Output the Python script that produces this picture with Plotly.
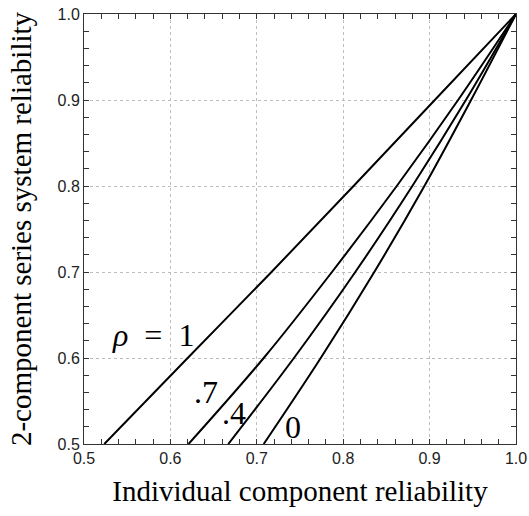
import plotly.graph_objects as go

# System reliability levels (y) and the component reliability (x) at which each curve reaches them
y_levels = [0.5, 0.6, 0.7, 0.8, 0.9, 1.0]
x_rho_1 = [0.5235, 0.620, 0.717, 0.812, 0.906, 1.0]
x_rho_07 = [0.621, 0.708, 0.787, 0.862, 0.933, 1.0]
x_rho_04 = [0.667, 0.743, 0.814, 0.880, 0.942, 1.0]
x_rho_0 = [0.708, 0.774, 0.836, 0.894, 0.948, 1.0]

curve_labels = ["<i>ρ</i>\u2002=\u20021", ".7", ".4", "0"]
label_x = [0.580, 0.641, 0.6736, 0.742]
label_y = [0.627, 0.560, 0.536, 0.520]

fig = go.Figure()
for xs in [x_rho_1, x_rho_07, x_rho_04, x_rho_0]:
    fig.add_trace(go.Scatter(x=xs, y=y_levels, mode="lines",
                             line=dict(color="black", width=2, shape="spline", smoothing=1.0),
                             showlegend=False, hoverinfo="skip"))

for t, xx, yy in zip(curve_labels, label_x, label_y):
    fig.add_annotation(x=xx, y=yy, text=t, showarrow=False,
                       font=dict(family="Liberation Serif", size=32, color="black"))

axis_common = dict(
    range=[0.5, 1.0], dtick=0.1, tick0=0.5, tickformat=".1f",
    showline=True, linecolor="#333", linewidth=1, mirror="ticks",
    ticks="inside", ticklen=5, tickwidth=1, tickcolor="#333",
    showgrid=True, gridcolor="#bdbdbd", griddash="dot", gridwidth=1,
    zeroline=False, automargin=False,
    tickfont=dict(family="Liberation Sans", size=16, color="#222"),
    minor=dict(dtick=0.02, tick0=0.5, ticks="inside", ticklen=5, tickwidth=1,
               tickcolor="#333", showgrid=False),
)

fig.update_xaxes(**axis_common,
                 title=dict(text="Individual component reliability",
                            font=dict(family="Liberation Serif", size=29, color="black"),
                            standoff=14))
fig.update_yaxes(**axis_common,
                 title=dict(text="2-component series system reliability",
                            font=dict(family="Liberation Serif", size=29, color="black"),
                            standoff=17))

fig.update_layout(
    width=529, height=516,
    margin=dict(l=84, r=13, t=14, b=72),
    plot_bgcolor="white", paper_bgcolor="white",
)

fig.write_html("out.html")
